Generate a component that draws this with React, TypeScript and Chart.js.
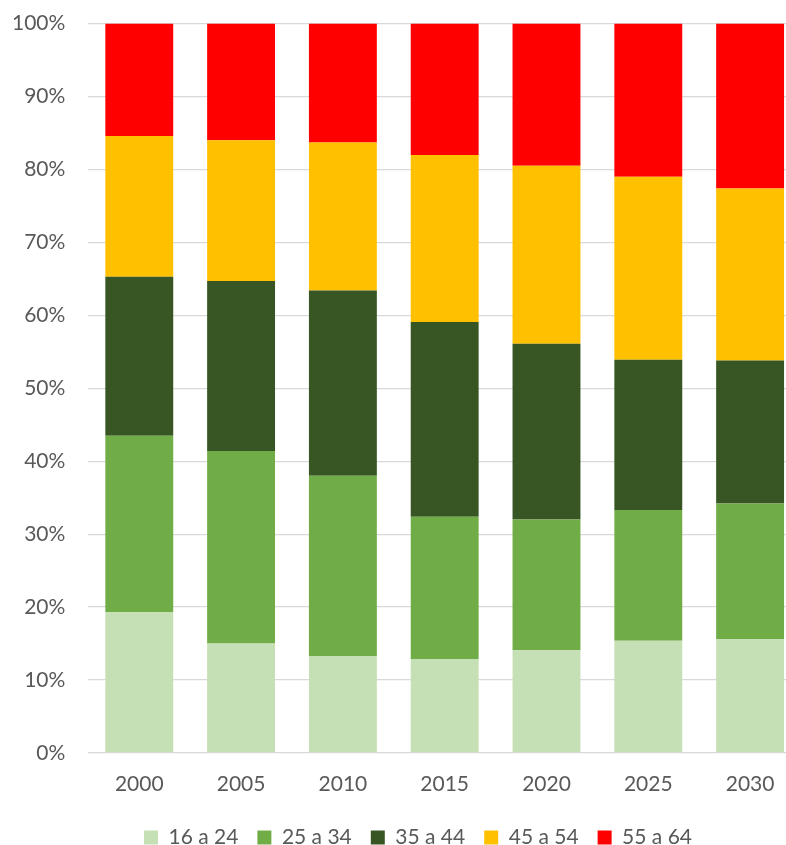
import React, { useEffect, useRef } from "react";
import { Chart, registerables } from "chart.js";

Chart.register(...registerables);

const categories = ["2000", "2005", "2010", "2015", "2020", "2025", "2030"];
const seriesNames = ["16 a 24", "25 a 34", "35 a 44", "45 a 54", "55 a 64"];
const s16_24 = [19.3, 15.0, 13.3, 12.9, 14.1, 15.4, 15.6];
const s25_34 = [24.2, 26.4, 24.7, 19.5, 17.9, 17.9, 18.6];
const s35_44 = [21.8, 23.3, 25.4, 26.7, 24.1, 20.6, 19.6];
const s45_54 = [19.3, 19.3, 20.3, 22.9, 24.4, 25.1, 23.6];
const s55_64 = [15.4, 16.0, 16.3, 18.0, 19.5, 21.0, 22.6];
const colors = ["#C5E0B4", "#70AD47", "#375623", "#FFC000", "#FF0000"];

const shiftLegend = {
  id: "shiftLegend",
  afterLayout(c: any) {
    if (c.legend) {
      c.legend.left += 23;
      c.legend.right += 23;
    }
  },
};

export default function App() {
  const ref = useRef<HTMLCanvasElement | null>(null);
  useEffect(() => {
    if (!ref.current) return;
    const values = [s16_24, s25_34, s35_44, s45_54, s55_64];
    const font = { family: "Lato", size: 21 };
    const chart = new Chart(ref.current, {
      type: "bar",
      data: {
        labels: categories,
        datasets: seriesNames.map((name, i) => ({
          label: name,
          data: values[i],
          backgroundColor: colors[i],
          borderWidth: 0,
          barPercentage: 0.667,
          categoryPercentage: 1,
        })),
      },
      plugins: [shiftLegend],
      options: {
        responsive: false,
        animation: false,
        layout: { padding: { left: 9, right: 9, top: 7, bottom: 0 } },
        plugins: {
          tooltip: { enabled: false },
          legend: {
            position: "bottom",
            labels: {
              boxWidth: 14,
              boxHeight: 14,
              padding: 19,
              color: "#595959",
              font,
            },
          },
        },
        scales: {
          x: {
            stacked: true,
            grid: { display: false, drawTicks: false },
            border: { display: false },
            ticks: { color: "#595959", font, padding: 19 },
            afterFit: (s: any) => {
              s.height = 55;
            },
          },
          y: {
            stacked: true,
            min: 0,
            max: 100,
            grid: { color: "#D9D9D9", lineWidth: 1.3, drawTicks: false },
            border: { display: false },
            ticks: {
              stepSize: 10,
              color: "#595959",
              font,
              padding: 23,
              callback: (v: any) => v + "%",
            },
          },
        },
      },
    });
    return () => chart.destroy();
  }, []);
  return (
    <div
      style={{
        position: "fixed",
        left: 0,
        top: 0,
        width: 786,
        height: 845,
        overflow: "hidden",
        background: "#fff",
      }}
    >
      <canvas
        ref={ref}
        width={830}
        height={870}
        style={{ position: "absolute", left: -20, top: -12 }}
      />
    </div>
  );
}
